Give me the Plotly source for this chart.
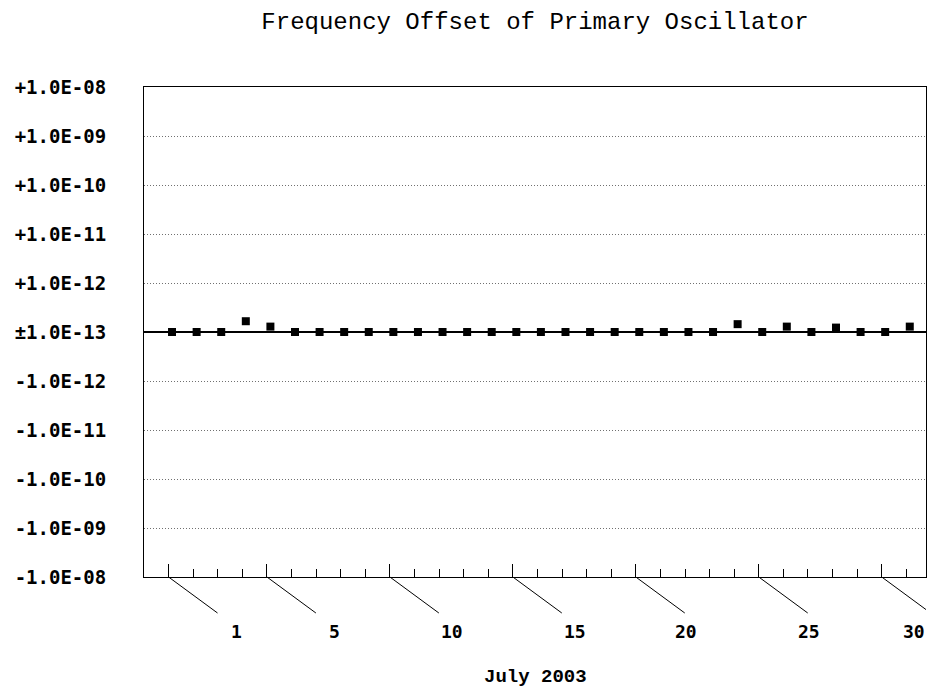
"""Frequency offset of the primary oscillator, July 2003."""
import plotly.graph_objects as go

# Days of the month with a measurement
days = list(range(1, 32))

# Offset on the chart's symmetric log scale: 0 = within +/-1E-13,
# +1 = +1E-12, +2 = +1E-11 ... (-n likewise for negative offsets)
offset_level = [0, 0, 0, 0.22, 0.11, 0, 0, 0, 0, 0,
                0, 0, 0, 0, 0, 0, 0, 0, 0, 0,
                0, 0, 0, 0.16, 0, 0.11, 0, 0.09, 0, 0,
                0.11]

# Y axis: levels and their labels
y_levels = [5, 4, 3, 2, 1, 0, -1, -2, -3, -4, -5]
y_labels = ["+1.0E-08", "+1.0E-09", "+1.0E-10", "+1.0E-11", "+1.0E-12",
            "±1.0E-13", "-1.0E-12", "-1.0E-11", "-1.0E-10", "-1.0E-09",
            "-1.0E-08"]

# X axis: labelled days
major_days = [1, 5, 10, 15, 20, 25, 30]
month_label = "July 2003"

MONO = "Liberation Mono"
MONO_BOLD = "DejaVu Sans Mono"

fig = go.Figure()

# Readings are drawn a little right of the day tick, as in the original
fig.add_trace(go.Scatter(
    x=[d + 0.14 for d in days],
    y=offset_level,
    mode="markers",
    marker=dict(symbol="square", size=8, color="black", line=dict(width=0)),
    showlegend=False,
    hoverinfo="skip",
))

# Slanted leader lines from each labelled tick to its label
shapes = []
for d in major_days:
    shapes.append(dict(
        type="line", xref="x", yref="paper",
        x0=d, y0=0, x1=d + 1.99, y1=-0.0735,
        line=dict(color="black", width=1),
    ))

# Day labels hang off the end of the leader lines
label_nudge_px = [75, 75, 75, 75, 63, 63, 45]
annotations = []
for d, nudge in zip(major_days, label_nudge_px):
    annotations.append(dict(
        x=d, y=-0.112, xref="x", yref="paper",
        text=str(d), showarrow=False,
        xanchor="right", yanchor="middle", xshift=nudge,
        font=dict(family=MONO_BOLD, size=18, color="black", weight="bold"),
    ))

annotations.append(dict(
    x=0.5, y=-0.205, xref="paper", yref="paper",
    text=month_label, showarrow=False,
    xanchor="center", yanchor="middle",
    font=dict(family=MONO, size=19, color="black", weight="bold"),
))

# The page body adds an 8px margin on every side, so the figure is
# sized to fit inside the window without scrolling
fig.update_layout(
    width=919,
    height=682,
    paper_bgcolor="white",
    plot_bgcolor="white",
    margin=dict(l=136, r=1, t=79, b=113),
    title=dict(
        text="Frequency Offset of Primary Oscillator",
        x=0.5, xref="paper", xanchor="center",
        y=0.982, yref="container", yanchor="middle",
        font=dict(family=MONO, size=24, color="black"),
    ),
    xaxis=dict(
        range=[0, 31.8],
        showgrid=False,
        zeroline=False,
        showline=True, mirror=True, linecolor="black", linewidth=1,
        tickmode="array", tickvals=major_days,
        ticks="inside", ticklen=13, tickcolor="black", tickwidth=1,
        showticklabels=False,
        minor=dict(tickmode="array", tickvals=days, ticks="inside",
                   ticklen=8, tickcolor="black", tickwidth=1,
                   showgrid=False),
        fixedrange=True,
    ),
    yaxis=dict(
        range=[-5, 5],
        tickmode="array", tickvals=y_levels, ticktext=y_labels,
        ticks="",
        ticklabelstandoff=33,
        tickfont=dict(family=MONO_BOLD, size=19, color="black",
                      weight="bold"),
        showgrid=True, gridcolor="#707070", gridwidth=1,
        griddash="1px,2px",
        zeroline=True, zerolinecolor="black", zerolinewidth=2,
        showline=True, mirror=True, linecolor="black", linewidth=1,
        fixedrange=True,
    ),
    shapes=shapes,
    annotations=annotations,
)

fig.write_html("out.html")
